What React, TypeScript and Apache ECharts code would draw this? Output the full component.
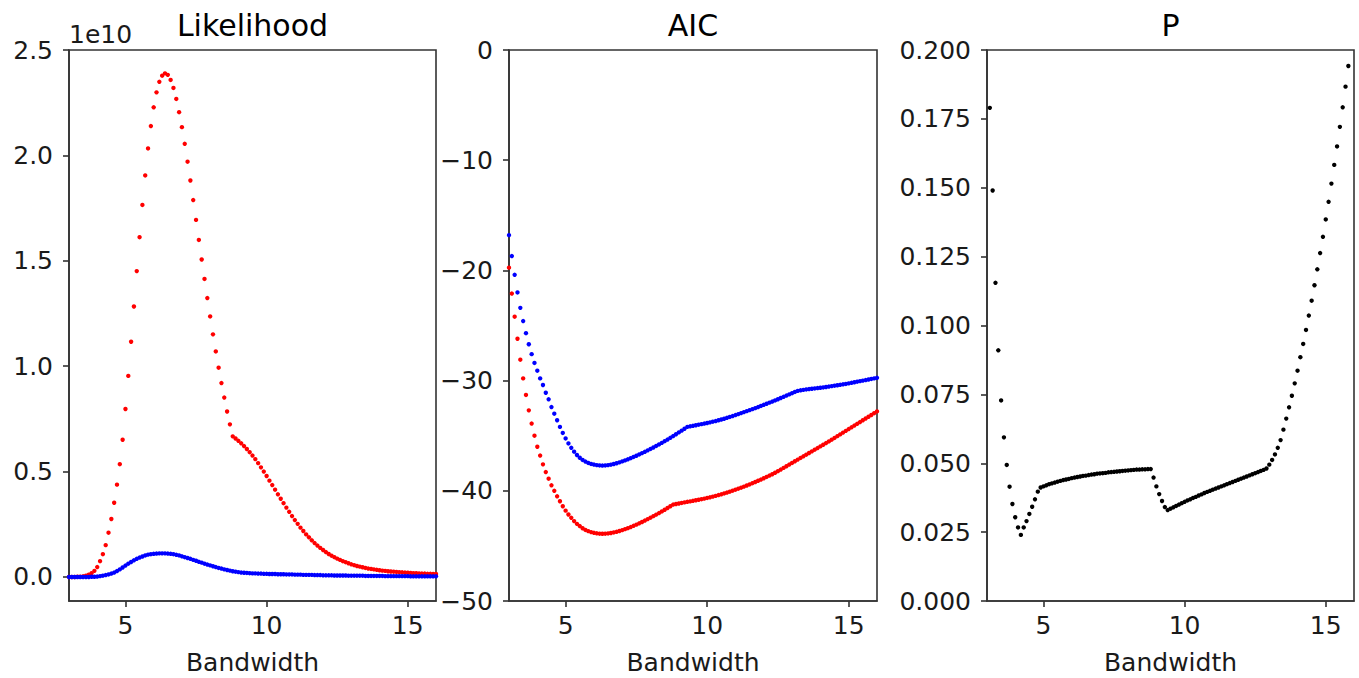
import React, { useEffect, useRef } from "react";
import * as echarts from "echarts";

// Bandwidth grid (x values)
const BANDWIDTH = [
  3.0, 3.1, 3.2, 3.3, 3.4, 3.5, 3.6, 3.7, 3.8, 3.9,
  4.0, 4.1, 4.2, 4.3, 4.4, 4.5, 4.6, 4.7, 4.8, 4.9,
  5.0, 5.1, 5.2, 5.3, 5.4, 5.5, 5.6, 5.7, 5.8, 5.9,
  6.0, 6.1, 6.2, 6.3, 6.4, 6.5, 6.6, 6.7, 6.8, 6.9,
  7.0, 7.1, 7.2, 7.3, 7.4, 7.5, 7.6, 7.7, 7.8, 7.9,
  8.0, 8.1, 8.2, 8.3, 8.4, 8.5, 8.6, 8.7, 8.8, 8.9,
  9.0, 9.1, 9.2, 9.3, 9.4, 9.5, 9.6, 9.7, 9.8, 9.9,
  10.0, 10.1, 10.2, 10.3, 10.4, 10.5, 10.6, 10.7, 10.8, 10.9,
  11.0, 11.1, 11.2, 11.3, 11.4, 11.5, 11.6, 11.7, 11.8, 11.9,
  12.0, 12.1, 12.2, 12.3, 12.4, 12.5, 12.6, 12.7, 12.8, 12.9,
  13.0, 13.1, 13.2, 13.3, 13.4, 13.5, 13.6, 13.7, 13.8, 13.9,
  14.0, 14.1, 14.2, 14.3, 14.4, 14.5, 14.6, 14.7, 14.8, 14.9,
  15.0, 15.1, 15.2, 15.3, 15.4, 15.5, 15.6, 15.7, 15.8, 15.9,
  16.0,
];

// Likelihood (units of 1e10)
const LIK_RED = [
  0.000, 0.000, 0.000, 0.001, 0.001, 0.003, 0.006, 0.011, 0.018, 0.029,
  0.047, 0.075, 0.108, 0.151, 0.210, 0.275, 0.352, 0.438, 0.535, 0.651,
  0.797, 0.954, 1.116, 1.283, 1.451, 1.612, 1.765, 1.905, 2.033, 2.139,
  2.228, 2.299, 2.349, 2.378, 2.389, 2.382, 2.358, 2.320, 2.268, 2.205,
  2.134, 2.055, 1.970, 1.881, 1.788, 1.694, 1.599, 1.506, 1.414, 1.323,
  1.236, 1.151, 1.070, 0.993, 0.920, 0.851, 0.785, 0.724, 0.667, 0.657,
  0.646, 0.634, 0.621, 0.607, 0.592, 0.576, 0.559, 0.540, 0.520, 0.500,
  0.479, 0.457, 0.436, 0.414, 0.392, 0.371, 0.350, 0.329, 0.309, 0.289,
  0.270, 0.252, 0.234, 0.218, 0.202, 0.188, 0.174, 0.161, 0.149, 0.138,
  0.128, 0.118, 0.109, 0.101, 0.094, 0.087, 0.081, 0.075, 0.070, 0.065,
  0.060, 0.056, 0.052, 0.049, 0.046, 0.043, 0.040, 0.038, 0.036, 0.034,
  0.032, 0.030, 0.029, 0.027, 0.026, 0.025, 0.024, 0.023, 0.022, 0.021,
  0.020, 0.019, 0.018, 0.018, 0.017, 0.016, 0.016, 0.015, 0.015, 0.014,
  0.014,
];

const LIK_BLUE = [
  0.000, 0.000, 0.000, 0.000, 0.000, 0.000, 0.000, 0.000, 0.001, 0.001,
  0.002, 0.004, 0.006, 0.009, 0.012, 0.016, 0.021, 0.028, 0.036, 0.045,
  0.054, 0.063, 0.071, 0.079, 0.086, 0.092, 0.097, 0.102, 0.106, 0.108,
  0.110, 0.111, 0.112, 0.112, 0.112, 0.111, 0.110, 0.108, 0.105, 0.102,
  0.098, 0.094, 0.090, 0.086, 0.081, 0.077, 0.072, 0.068, 0.063, 0.059,
  0.055, 0.051, 0.047, 0.043, 0.040, 0.036, 0.033, 0.030, 0.027, 0.025,
  0.023, 0.021, 0.020, 0.019, 0.018, 0.017, 0.017, 0.016, 0.016, 0.015,
  0.015, 0.014, 0.014, 0.014, 0.013, 0.013, 0.013, 0.012, 0.012, 0.012,
  0.011, 0.011, 0.011, 0.010, 0.010, 0.010, 0.010, 0.009, 0.009, 0.009,
  0.008, 0.008, 0.008, 0.008, 0.007, 0.007, 0.007, 0.007, 0.007, 0.006,
  0.006, 0.006, 0.006, 0.006, 0.006, 0.005, 0.005, 0.005, 0.005, 0.005,
  0.005, 0.005, 0.004, 0.004, 0.004, 0.004, 0.004, 0.004, 0.004, 0.004,
  0.004, 0.003, 0.003, 0.003, 0.003, 0.003, 0.003, 0.003, 0.003, 0.003,
  0.003,
];

// AIC
const AIC_BLUE = [
  -16.8, -18.7, -20.4, -22.0, -23.4, -24.6, -25.7, -26.7, -27.6, -28.4,
  -29.1, -29.8, -30.4, -31.1, -31.7, -32.4, -33.0, -33.6, -34.2, -34.75,
  -35.25, -35.7, -36.1, -36.45, -36.75, -37.0, -37.2, -37.35, -37.47, -37.56,
  -37.62, -37.67, -37.7, -37.71, -37.7, -37.67, -37.63, -37.57, -37.5, -37.42,
  -37.33, -37.24, -37.14, -37.04, -36.93, -36.82, -36.7, -36.58, -36.46, -36.33,
  -36.2, -36.07, -35.93, -35.79, -35.65, -35.5, -35.35, -35.19, -35.03, -34.87,
  -34.7, -34.54, -34.37, -34.2, -34.15, -34.1, -34.05, -34.0, -33.95, -33.9,
  -33.85, -33.79, -33.73, -33.67, -33.6, -33.53, -33.46, -33.38, -33.3, -33.22,
  -33.13, -33.04, -32.95, -32.86, -32.77, -32.68, -32.59, -32.5, -32.4, -32.3,
  -32.2, -32.1, -32.0, -31.9, -31.8, -31.69, -31.58, -31.47, -31.36, -31.25,
  -31.14, -31.03, -30.93, -30.88, -30.84, -30.8, -30.77, -30.74, -30.71, -30.68,
  -30.65, -30.62, -30.58, -30.54, -30.5, -30.46, -30.42, -30.38, -30.34, -30.3,
  -30.25, -30.2, -30.15, -30.1, -30.05, -30.0, -29.95, -29.9, -29.85, -29.8,
  -29.75,
];

const AIC_RED = [
  -19.75, -22.1, -24.2, -26.2, -28.1, -29.8, -31.3, -32.7, -33.9, -35.0,
  -36.0, -36.8, -37.6, -38.3, -38.9, -39.5, -40.0, -40.5, -40.95, -41.4,
  -41.8, -42.15, -42.45, -42.75, -43.0, -43.2, -43.4, -43.55, -43.66, -43.75,
  -43.81, -43.86, -43.89, -43.9, -43.89, -43.87, -43.83, -43.78, -43.72, -43.65,
  -43.57, -43.48, -43.39, -43.29, -43.18, -43.07, -42.95, -42.83, -42.7, -42.57,
  -42.44, -42.3, -42.16, -42.02, -41.87, -41.72, -41.56, -41.4, -41.25, -41.2,
  -41.15, -41.1, -41.05, -41.0, -40.96, -40.91, -40.86, -40.81, -40.76, -40.71,
  -40.65, -40.59, -40.53, -40.46, -40.39, -40.32, -40.24, -40.16, -40.08, -39.99,
  -39.9, -39.81, -39.72, -39.62, -39.52, -39.42, -39.31, -39.2, -39.09, -38.98,
  -38.86, -38.74, -38.62, -38.5, -38.36, -38.22, -38.07, -37.92, -37.77, -37.62,
  -37.47, -37.32, -37.17, -37.02, -36.87, -36.72, -36.57, -36.42, -36.27, -36.12,
  -35.97, -35.82, -35.67, -35.52, -35.36, -35.2, -35.04, -34.88, -34.72, -34.56,
  -34.4, -34.24, -34.08, -33.92, -33.76, -33.6, -33.44, -33.28, -33.12, -32.96,
  -32.8,
];

// P (null = above the visible range)
const P_VALUES = [
  null, 0.179, 0.149, 0.1155, 0.091, 0.0728, 0.0594, 0.0494, 0.0415, 0.0352,
  0.0304, 0.0267, 0.0240, 0.0267, 0.0290, 0.0316, 0.0342, 0.0369, 0.0397, 0.0412,
  0.0416, 0.0420, 0.0424, 0.0427, 0.0430, 0.0433, 0.0436, 0.0439, 0.0441, 0.0443,
  0.0446, 0.0448, 0.0450, 0.0452, 0.0454, 0.0455, 0.0457, 0.0459, 0.0460, 0.0462,
  0.0463, 0.0464, 0.0465, 0.0467, 0.0468, 0.0469, 0.0470, 0.0471, 0.0472, 0.0473,
  0.0474, 0.0475, 0.0476, 0.0477, 0.0477, 0.0478, 0.0478, 0.0479, 0.0479, 0.0448,
  0.0416, 0.0388, 0.0363, 0.0341, 0.0330, 0.0335, 0.0340, 0.0345, 0.0350, 0.0355,
  0.0360, 0.0365, 0.0369, 0.0374, 0.0378, 0.0383, 0.0387, 0.0392, 0.0396, 0.0400,
  0.0404, 0.0408, 0.0412, 0.0416, 0.0420, 0.0424, 0.0428, 0.0432, 0.0436, 0.0440,
  0.0444, 0.0448, 0.0452, 0.0456, 0.0460, 0.0464, 0.0468, 0.0472, 0.0476, 0.0481,
  0.0495, 0.0512, 0.0532, 0.0556, 0.0584, 0.0622, 0.0662, 0.0703, 0.0745, 0.0790,
  0.0836, 0.0885, 0.0933, 0.0984, 0.1036, 0.1090, 0.1146, 0.1204, 0.1263, 0.1322,
  0.1385, 0.1449, 0.1515, 0.1583, 0.1650, 0.1721, 0.1792, 0.1867, 0.1942, null,
  null,
];

const TITLES = ["Likelihood", "AIC", "P"];
const X_LABEL = "Bandwidth";
const X_TICKS = [5, 10, 15];
const LIK_TICKS = [0, 0.5, 1.0, 1.5, 2.0, 2.5];
const LIK_OFFSET_TEXT = "1e10";

const FONT = "DejaVu Sans";
const INK = "#1a1a1a";
const SPINE = "#333333";

function pairs(ys: (number | null)[]) {
  const out: [number, number][] = [];
  BANDWIDTH.forEach((x, i) => {
    const y = ys[i];
    if (y !== null && y !== undefined) out.push([x, y]);
  });
  return out;
}

export default function App() {
  const ref = useRef<HTMLDivElement>(null);

  useEffect(() => {
    if (!ref.current) return;
    const chart = echarts.init(ref.current, null, { renderer: "svg" });

    const grids = [
      { left: 69, top: 50, width: 367, height: 551 },
      { left: 509, top: 50, width: 368, height: 551 },
      { left: 987, top: 50, width: 367, height: 551 },
    ];

    const lineStyle = { color: SPINE, width: 1.6 };
    const labelStyle = { fontSize: 25, color: INK, fontFamily: FONT };

    const xAxes = grids.map((_, i) => ({
      type: "value",
      gridIndex: i,
      min: 3,
      max: 16,
      axisLine: { show: true, onZero: false, lineStyle },
      axisTick: { show: true, length: 6, customValues: X_TICKS, lineStyle },
      axisLabel: { ...labelStyle, margin: 12, customValues: X_TICKS },
      splitLine: { show: false },
    }));

    const minus = (v: number) => (v < 0 ? "\u2212" + Math.abs(v) : String(v));

    const yAxes = [
      {
        type: "value",
        gridIndex: 0,
        min: -0.114,
        max: 2.5,
        axisLine: { show: true, onZero: false, lineStyle },
        axisTick: { show: true, length: 6, customValues: LIK_TICKS, lineStyle },
        axisLabel: {
          ...labelStyle,
          margin: 16,
          customValues: LIK_TICKS,
          formatter: (v: number) => v.toFixed(1),
        },
        splitLine: { show: false },
      },
      {
        type: "value",
        gridIndex: 1,
        min: -50,
        max: 0,
        interval: 10,
        axisLine: { show: true, onZero: false, lineStyle },
        axisTick: { show: true, length: 6, lineStyle },
        axisLabel: { ...labelStyle, margin: 16, formatter: minus },
        splitLine: { show: false },
      },
      {
        type: "value",
        gridIndex: 2,
        min: 0,
        max: 0.2,
        interval: 0.025,
        axisLine: { show: true, onZero: false, lineStyle },
        axisTick: { show: true, length: 6, lineStyle },
        axisLabel: {
          ...labelStyle,
          margin: 16,
          formatter: (v: number) => v.toFixed(3),
        },
        splitLine: { show: false },
      },
    ];

    const dot = (
      name: string,
      idx: number,
      ys: (number | null)[],
      color: string
    ) => ({
      name,
      type: "scatter",
      xAxisIndex: idx,
      yAxisIndex: idx,
      symbol: "circle",
      symbolSize: 4.4,
      itemStyle: { color, opacity: 1 },
      emphasis: { disabled: true },
      silent: true,
      clip: true,
      data: pairs(ys),
    });

    const centers = grids.map((g) => g.left + g.width / 2);

    const graphics: any[] = [];
    TITLES.forEach((t, i) => {
      graphics.push({
        type: "text",
        x: centers[i],
        y: 25,
        silent: true,
        style: {
          text: t,
          font: `30px "${FONT}"`,
          fill: "#000",
          align: "center",
          verticalAlign: "middle",
        },
      });
      graphics.push({
        type: "text",
        x: centers[i],
        y: 662,
        silent: true,
        style: {
          text: X_LABEL,
          font: `25px "${FONT}"`,
          fill: INK,
          align: "center",
          verticalAlign: "middle",
        },
      });
    });
    graphics.push({
      type: "text",
      x: 69,
      y: 34,
      silent: true,
      style: {
        text: LIK_OFFSET_TEXT,
        font: `25px "${FONT}"`,
        fill: INK,
        align: "left",
        verticalAlign: "middle",
      },
    });

    chart.setOption({
      animation: false,
      backgroundColor: "#ffffff",
      grid: grids.map((g) => ({
        ...g,
        show: true,
        borderColor: SPINE,
        borderWidth: 1.6,
        backgroundColor: "transparent",
        containLabel: false,
      })),
      xAxis: xAxes,
      yAxis: yAxes,
      series: [
        dot("Likelihood red", 0, LIK_RED, "#ff0000"),
        dot("Likelihood blue", 0, LIK_BLUE, "#0000ff"),
        dot("AIC red", 1, AIC_RED, "#ff0000"),
        dot("AIC blue", 1, AIC_BLUE, "#0000ff"),
        dot("P", 2, P_VALUES, "#000000"),
      ],
      graphic: graphics,
    });

    return () => chart.dispose();
  }, []);

  return (
    <div
      ref={ref}
      style={{
        position: "fixed",
        left: 0,
        top: 0,
        width: 1359,
        height: 678,
        background: "#fff",
      }}
    />
  );
}
